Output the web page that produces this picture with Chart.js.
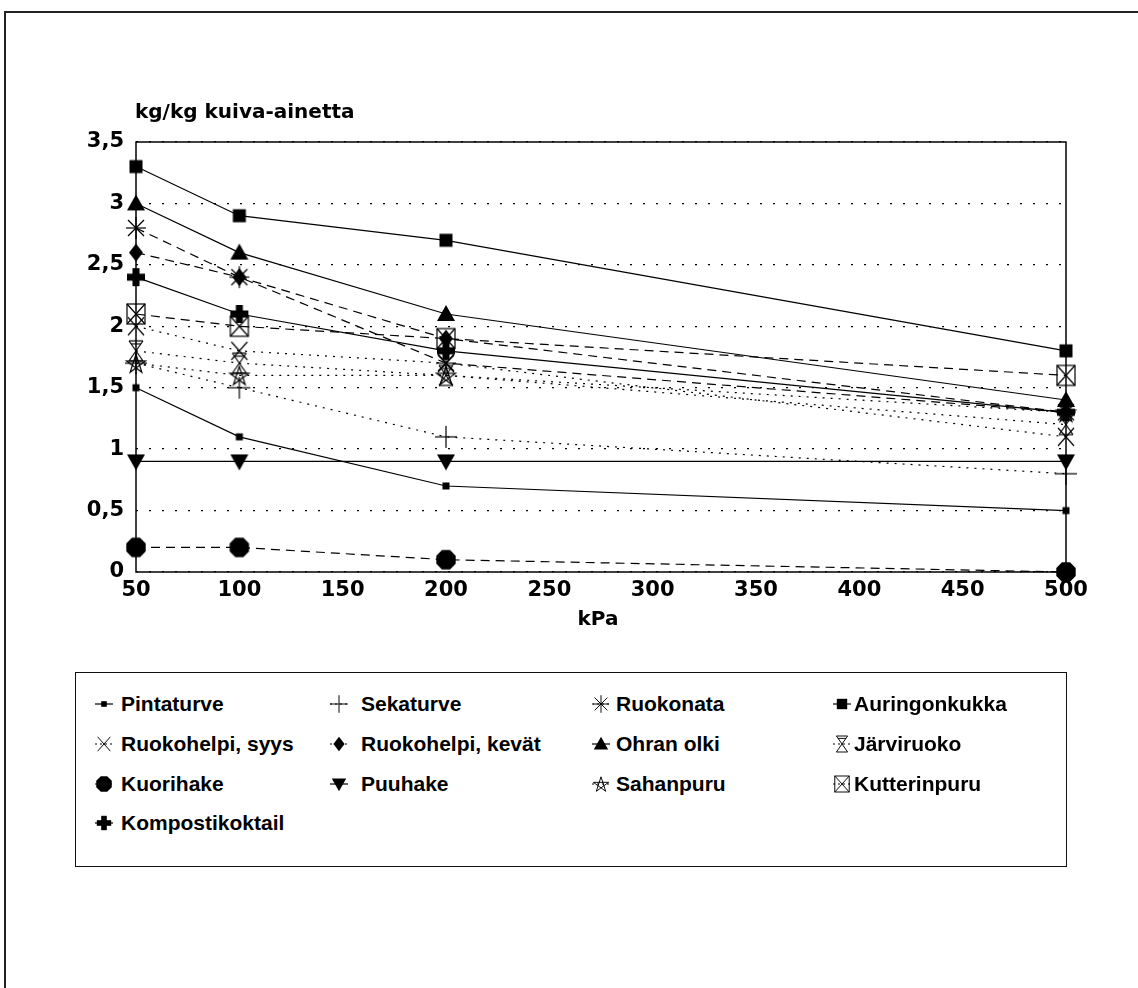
<!DOCTYPE html>
<html>
<head>
<meta charset="utf-8">
<script src="https://cdn.jsdelivr.net/npm/chart.js@4.4.0/dist/chart.umd.min.js"></script>
<style>
  body { margin: 0; background: #fff; width: 1138px; height: 988px; overflow: hidden; position: relative; }
  #frame { position: absolute; left: 4px; top: 11px; width: 1200px; height: 1000px; border-left: 2px solid #222; border-top: 2px solid #222; }
  #wrap { position: absolute; left: 0; top: 0; }
  #legend { position: absolute; left: 75px; top: 672px; width: 992px; height: 195px; border: 1.5px solid #111; box-sizing: border-box; }
  .item { position: absolute; height: 24px; display: flex; align-items: center; font: bold 21px "Liberation Sans", Arial, sans-serif; color: #000; white-space: nowrap; }
</style>
</head>
<body>
<div id="frame"></div>
<div id="wrap"><canvas id="chart" width="1138" height="660"></canvas></div>
<div id="legend"></div>
<script>
// kg/kg kuiva-ainetta eri paineissa (kPa)
const kPa = [50, 100, 200, 500];
const yTicks = [0, 0.5, 1, 1.5, 2, 2.5, 3, 3.5];

const names = ['Pintaturve', 'Sekaturve', 'Ruokonata', 'Auringonkukka',
  'Ruokohelpi, syys', 'Ruokohelpi, kevät', 'Ohran olki', 'Järviruoko',
  'Kuorihake', 'Puuhake', 'Sahanpuru', 'Kutterinpuru', 'Kompostikoktail'];

const pintaturve      = [1.5, 1.1, 0.7, 0.5];
const sekaturve       = [1.7, 1.5, 1.1, 0.8];
const ruokonata       = [2.8, 2.4, 1.7, 1.3];
const auringonkukka   = [3.3, 2.9, 2.7, 1.8];
const helpiSyys       = [2.0, 1.8, 1.7, 1.1];
const helpiKevat      = [2.6, 2.4, 1.9, 1.3];
const ohranOlki       = [3.0, 2.6, 2.1, 1.4];
const jarviruoko      = [1.8, 1.7, 1.6, 1.2];
const kuorihake       = [0.2, 0.2, 0.1, 0.0];
const puuhake         = [0.9, 0.9, 0.9, 0.9];
const sahanpuru       = [1.7, 1.6, 1.6, 1.3];
const kutterinpuru    = [2.1, 2.0, 1.9, 1.6];
const kompostikoktail = [2.4, 2.1, 1.8, 1.3];

const values = [pintaturve, sekaturve, ruokonata, auringonkukka, helpiSyys, helpiKevat,
  ohranOlki, jarviruoko, kuorihake, puuhake, sahanpuru, kutterinpuru, kompostikoktail];

const markers = ['smallSquare', 'plus', 'asterisk', 'square', 'cross', 'diamond',
  'triangle', 'hourglass', 'octagon', 'downTriangle', 'star', 'boxX', 'fatPlus'];

const SOLID = [], DASH = [9, 6], DOT = [2, 6];
const dashes = [SOLID, DOT, DASH, SOLID, DOT, DASH, SOLID, DOT, DASH, SOLID, DOT, DASH, SOLID];

function drawMarker(c, kind, x, y, s) {
  s = s || 1;
  c.save();
  c.translate(x, y);
  c.scale(s, s);
  c.fillStyle = '#000';
  c.strokeStyle = '#000';
  c.lineWidth = 1.2;
  c.setLineDash([]);
  const line = (a, b, d, e) => { c.beginPath(); c.moveTo(a, b); c.lineTo(d, e); c.stroke(); };
  const poly = (pts, fill) => {
    c.beginPath();
    pts.forEach((p, i) => i ? c.lineTo(p[0], p[1]) : c.moveTo(p[0], p[1]));
    c.closePath();
    fill ? c.fill() : c.stroke();
  };
  switch (kind) {
    case 'smallSquare': c.fillRect(-3.5, -3.5, 7, 7); break;
    case 'square': c.fillRect(-6.5, -6.5, 13, 13); break;
    case 'plus': line(-11, 0, 11, 0); line(0, -11, 0, 11); break;
    case 'asterisk':
      line(-10, 0, 10, 0); line(0, -11, 0, 11); line(-8, -8, 8, 8); line(-8, 8, 8, -8); break;
    case 'cross': line(-8, -9, 8, 9); line(-8, 9, 8, -9); break;
    case 'diamond': poly([[0, -9], [7, 0], [0, 9], [-7, 0]], true); break;
    case 'triangle': poly([[0, -9], [9, 7], [-9, 7]], true); break;
    case 'downTriangle': poly([[-9, -7], [9, -7], [0, 9]], true); break;
    case 'octagon': {
      const pts = [];
      for (let i = 0; i < 8; i++) {
        const a = Math.PI / 8 + i * Math.PI / 4;
        pts.push([10.5 * Math.cos(a), 10.5 * Math.sin(a)]);
      }
      poly(pts, true);
      break;
    }
    case 'hourglass':
      line(-7, -10, 7, -10); line(-7, 10, 7, 10);
      line(-7, -10, 7, 10); line(7, -10, -7, 10);
      line(-5, -7, 5, -7); break;
    case 'star': {
      const pts = [];
      for (let i = 0; i < 5; i++) {
        const a = -Math.PI / 2 + i * 4 * Math.PI / 5;
        pts.push([10 * Math.cos(a), 10 * Math.sin(a) + 1]);
      }
      poly(pts, false);
      break;
    }
    case 'boxX':
      c.strokeRect(-9, -10, 18, 20); line(-9, -10, 9, 10); line(9, -10, -9, 10); break;
    case 'fatPlus':
      c.fillRect(-9, -3.5, 18, 7); c.fillRect(-3.5, -9, 7, 18); break;
  }
  c.restore();
}

function markerImage(kind) {
  const cv = document.createElement('canvas');
  cv.width = 28; cv.height = 28;
  drawMarker(cv.getContext('2d'), kind, 14, 14);
  return cv;
}

const datasets = names.map((name, i) => ({
  label: name,
  data: kPa.map((k, j) => ({ x: k, y: values[i][j] })),
  borderColor: '#000',
  borderWidth: 1.2,
  borderDash: dashes[i],
  pointStyle: markerImage(markers[i]),
  pointRadius: 10,
  tension: 0,
  fill: false,
  clip: false
}));

const tickFont = { family: '"DejaVu Sans", sans-serif', size: 21, weight: 'bold' };

const framePlugin = {
  id: 'frame',
  beforeDatasetsDraw(chart) {
    const { ctx, chartArea: a } = chart;
    ctx.save();
    ctx.strokeStyle = '#000';
    ctx.lineWidth = 1.5;
    ctx.strokeRect(a.left, a.top, a.right - a.left, a.bottom - a.top);
    ctx.restore();
  },
  afterDraw(chart) {
    const { ctx, chartArea: a } = chart;
    ctx.save();
    ctx.fillStyle = '#000';
    ctx.font = 'bold 20px "DejaVu Sans", sans-serif';
    ctx.textBaseline = 'middle';
    ctx.textAlign = 'left';
    ctx.fillText('kg/kg kuiva-ainetta', a.left - 1, 113);
    ctx.textAlign = 'center';
    ctx.fillText('kPa', 598, 620);
    ctx.restore();
  }
};

new Chart(document.getElementById('chart').getContext('2d'), {
  type: 'line',
  data: { datasets },
  options: {
    responsive: false,
    animation: false,
    layout: { padding: { left: 0, right: 72, top: 142, bottom: 0 } },
    plugins: { legend: { display: false }, tooltip: { enabled: false } },
    scales: {
      x: {
        type: 'linear', min: 50, max: 500,
        ticks: { stepSize: 50, padding: 6, color: '#000', font: tickFont, maxRotation: 0 },
        grid: { display: false, drawTicks: false },
        border: { display: false },
        afterFit: s => { s.height = 88; }
      },
      y: {
        min: 0, max: 3.5,
        afterBuildTicks: s => { s.ticks = yTicks.map(v => ({ value: v })); },
        ticks: { padding: 12, color: '#000', font: tickFont,
          callback: v => String(v).replace('.', ',') },
        grid: { color: '#000', lineWidth: 1.3, drawTicks: false },
        border: { display: false, dash: [2, 11] },
        afterFit: s => { s.width = 136; }
      }
    }
  },
  plugins: [framePlugin]
});

// legend, 4 columns
const legend = document.getElementById('legend');
const colMarker = [28, 263, 525, 766];
const colText = [45, 285, 540, 778];
const rowY = [31, 71, 111, 150];
names.forEach((name, i) => {
  const col = i % 4, row = Math.floor(i / 4);
  const mk = document.createElement('canvas');
  mk.width = 30; mk.height = 24;
  mk.style.left = (colMarker[col] - 15) + 'px';
  mk.style.top = (rowY[row] - 12) + 'px';
  mk.style.position = 'absolute';
  const c = mk.getContext('2d');
  c.strokeStyle = '#000';
  c.lineWidth = 1.2;
  c.setLineDash(dashes[i].length ? [2, 3] : []);
  c.beginPath(); c.moveTo(6, 12); c.lineTo(24, 12); c.stroke();
  drawMarker(c, markers[i], 15, 12, 0.8);
  legend.appendChild(mk);
  const t = document.createElement('div');
  t.className = 'item';
  t.textContent = name;
  t.style.left = colText[col] + 'px';
  t.style.top = (rowY[row] - 12) + 'px';
  legend.appendChild(t);
});
</script>
</body>
</html>
